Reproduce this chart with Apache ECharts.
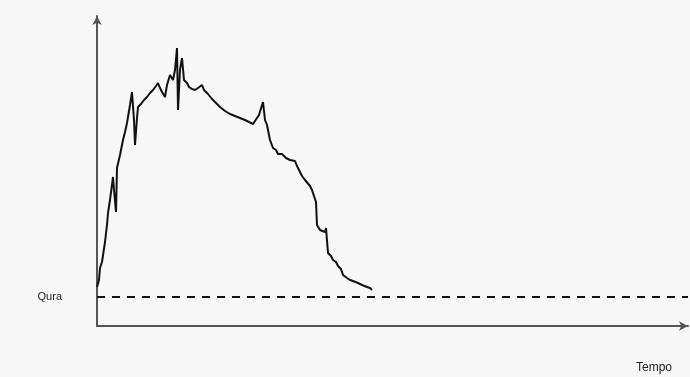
<!DOCTYPE html>
<html>
<head>
<meta charset="utf-8">
<script src="https://cdn.jsdelivr.net/npm/echarts@6/dist/echarts.min.js"></script>
<style>
  html, body { margin: 0; padding: 0; background: #f7f7f7; }
  #chart { width: 690px; height: 377px; }
</style>
</head>
<body>
<div id="chart"></div>
<script>
// time positions (arbitrary units)
var tempo = [0, 2, 3, 5, 8, 10, 11, 13, 16, 17, 19, 20, 23, 26, 28, 30, 33, 35, 37, 38,
  40, 41, 43, 44, 46, 47, 49, 50, 52, 53, 55, 56, 58, 59, 61, 63, 65, 68, 70, 73, 76, 78, 80, 81, 83, 85,
  87, 89, 90, 92, 93, 95, 96, 98, 101, 103, 105, 107, 109, 111, 113, 115, 117, 120, 123, 125, 128, 130, 133,
  135, 138, 140, 143, 145, 148, 150, 152, 154, 156, 158, 162, 166, 168, 170, 173, 176, 179, 181, 183, 185,
  187, 189, 191, 193, 195, 198, 200, 203, 205, 208, 210,
  213, 215, 217, 219, 220, 223, 225, 228, 229, 231, 234, 236, 239, 241, 244, 246, 248, 250,
  253, 256, 258, 261, 263, 265, 267, 270, 273, 275]
var valori = [39, 46, 58, 64, 84, 101, 113, 126, 149, 136, 114, 158, 171, 186, 194, 203, 221, 234, 206, 181,
  208, 219, 217, 222, 220, 226, 224, 229, 228, 233, 231, 236, 234, 240, 243, 238, 234, 229, 241, 251, 246, 256, 278, 216, 256, 268,
  246, 244, 243, 239, 241, 237, 238, 236, 238, 240, 241, 236, 238, 232, 233, 227, 226, 222, 219, 218, 215, 216, 212,
  214, 210, 211, 208, 209, 206, 207, 204, 205, 202, 201, 211, 224, 206, 201, 186, 178, 176, 172, 171, 172,
  170, 168, 168, 166, 167, 165, 160, 154, 150, 146, 144,
  140, 136, 130, 124, 101, 96, 97, 94, 98, 73, 70, 66, 64, 60, 57, 51, 49, 48, 46,
  45, 44, 43, 42, 41, 41, 39, 38, 36, 34]
var soglia = 29
var etichettaSoglia = 'Qura'
var nomeAsseX = 'Tempo'

var chart = echarts.init(document.getElementById('chart'))

var data = []
for (var i = 0; i < tempo.length; i++) {
  data.push([tempo[i], valori[i]])
}

var option = {
  backgroundColor: '#f7f7f7',
  animation: false,
  textStyle: { fontFamily: 'Liberation Sans, Arial, sans-serif' },
  grid: { left: 97, right: 2, top: 16, bottom: 51 },
  xAxis: {
    type: 'value',
    min: 0,
    max: 591,
    name: nomeAsseX,
    nameLocation: 'end',
    nameGap: -52,
    nameTextStyle: { color: '#222', fontSize: 12, align: 'left', verticalAlign: 'top', padding: [36, 0, 0, 0] },
    axisLine: { show: true, symbol: ['none', 'arrow'], symbolSize: [7, 9], lineStyle: { color: '#555', width: 2 } },
    axisTick: { show: false },
    axisLabel: { show: false },
    splitLine: { show: false }
  },
  yAxis: {
    type: 'value',
    min: 0,
    max: 310,
    axisLine: { show: true, symbol: ['none', 'arrow'], symbolSize: [7, 9], lineStyle: { color: '#555', width: 2 } },
    axisTick: { show: false },
    axisLabel: { show: false },
    splitLine: { show: false }
  },
  series: [
    {
      type: 'line',
      data: data,
      showSymbol: false,
      lineStyle: { color: '#111', width: 2 },
      markLine: {
        silent: true,
        symbol: ['none', 'none'],
        lineStyle: { color: '#111', width: 2, type: [8, 7] },
        label: {
          show: true,
          position: 'start',
          distance: 35,
          formatter: etichettaSoglia,
          color: '#222',
          fontSize: 11
        },
        data: [{ yAxis: soglia }]
      }
    }
  ]
}
chart.setOption(option)
</script>
</body>
</html>
